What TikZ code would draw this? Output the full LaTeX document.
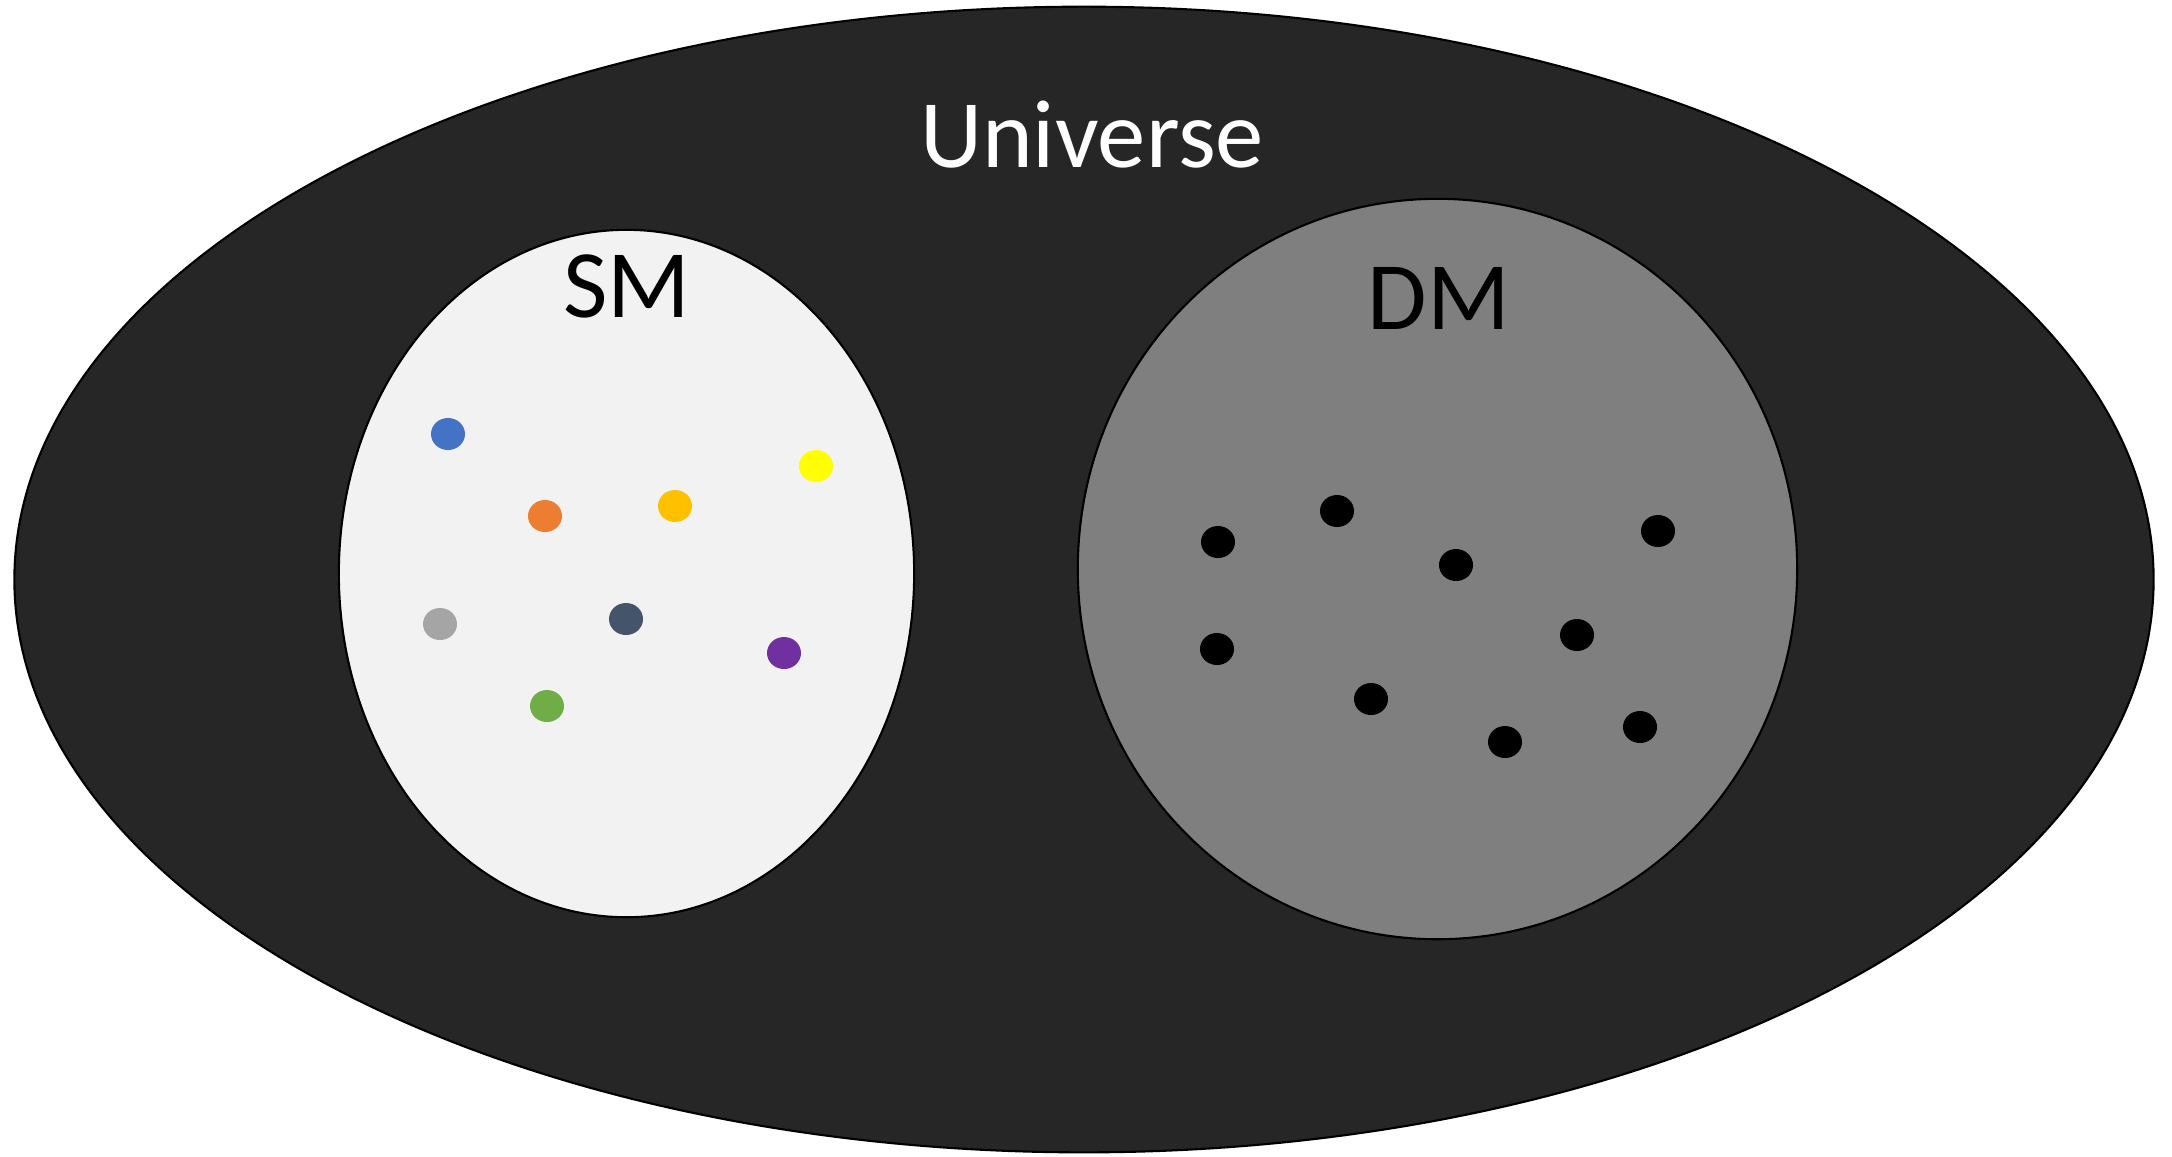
\documentclass[tikz,border=0pt]{standalone}
\usepackage{fontspec}
\setmainfont{Carlito}
\usepackage{xcolor}
\usetikzlibrary{shapes.geometric}

\definecolor{univfill}{HTML}{262626}
\definecolor{smfill}{HTML}{F2F2F2}
\definecolor{dmfill}{HTML}{7F7F7F}
\definecolor{pblue}{HTML}{4472C4}
\definecolor{porange}{HTML}{ED7D31}
\definecolor{pgold}{HTML}{FFC000}
\definecolor{pyellow}{HTML}{FFFF00}
\definecolor{pgray}{HTML}{A5A5A5}
\definecolor{pslate}{HTML}{44546A}
\definecolor{ppurple}{HTML}{7030A0}
\definecolor{pgreen}{HTML}{70AD47}

\begin{document}
\begin{tikzpicture}[x=0.01cm, y=-0.01cm,
    every node/.style={font=\fontsize{27.5}{33}\selectfont},
    blob/.style={ellipse, draw=black, line width=0.6pt, inner sep=0pt},
    particle/.style={ellipse, inner sep=0pt, minimum width=0.34cm, minimum height=0.32cm}]
    \useasboundingbox (0,0) rectangle (2172,1156);
    \node[blob, fill=univfill, minimum width=21.38cm, minimum height=11.45cm] (universe) at (1084,579.5) {};
    \node[blob, fill=smfill, minimum width=5.75cm, minimum height=6.87cm] (sm) at (626.5,573.5) {};
    \node[blob, fill=dmfill, minimum width=7.19cm, minimum height=7.40cm] (dm) at (1437.5,569) {};
    \node[white, anchor=base] (universe label) at (1092,167) {Universe};
    \node[black, anchor=base] (sm label) at (627,317) {SM};
    \node[black, anchor=base] (dm label) at (1439,329) {DM};
    % visible matter
    \foreach \x/\y/\c [count=\i] in {448/434/pblue,545/516/porange,675/506/pgold,816/466/pyellow,440/624/pgray,626/619/pslate,784/653/ppurple,547/706/pgreen}{
      \node[particle, fill=\c] (sm\i) at (\x,\y) {};
    }
    % dark matter
    \foreach \x/\y [count=\i] in {1218/542,1337/511,1456/565,1658/531,1217/649,1577/635,1371/699,1505/742,1640/727}{
      \node[particle, fill=black] (dm\i) at (\x,\y) {};
    }
\end{tikzpicture}
\end{document}
